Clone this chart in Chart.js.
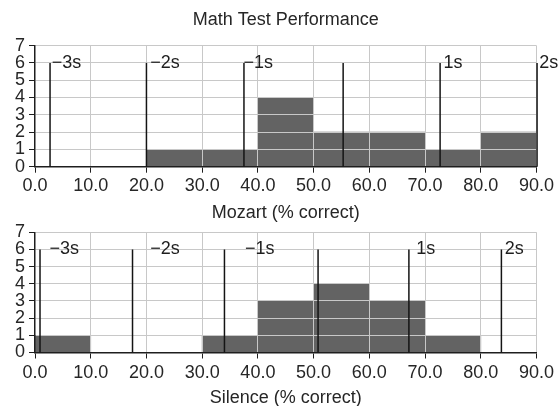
<!DOCTYPE html>
<html>
<head>
<meta charset="utf-8">
<script src="https://cdn.jsdelivr.net/npm/chart.js@4"></script>
<style>
html,body{margin:0;padding:0;background:#fff;width:560px;height:406px;overflow:hidden;position:relative}
canvas{position:absolute;left:0}
#mozartChart{top:0}
#silenceChart{top:190px}
</style>
</head>
<body>
<canvas id="mozartChart" width="560" height="230"></canvas>
<canvas id="silenceChart" width="560" height="230"></canvas>
<script>

/* ---------------- DATA ---------------- */

const binEdges = [0,10,20,30,40,50,60,70,80,90]
const yTicks = [0,1,2,3,4,5,6,7]

const mozartCounts = [0,0,1,1,4,2,2,1,2]
const silenceCounts = [1,0,0,1,3,4,3,1,0]

const sdNames = ["\u22123s","\u22122s","\u22121s","","1s","2s"]
const sdLineTop = 6

const mozartSdLines = [2.7,20.0,37.5,55.3,72.7,90.1]
const mozartSdLabelX = [3.0,20.7,37.4,null,73.3,90.5]

const silenceSdLines = [0.9,17.5,34.0,50.8,67.1,83.7]
const silenceSdLabelX = [2.6,20.7,37.7,null,68.4,84.3]

/* ---------------- STYLE ---------------- */

const FONT = "'Liberation Sans', Arial, Helvetica, sans-serif"
Chart.defaults.font.family = FONT
Chart.defaults.font.size = 18
Chart.defaults.color = "#262626"

const BAR = "#636363"
const GRID = "#c8c8c8"
const AXIS = "#1e1e1e"

/* ---------------- SD LINES PLUGIN ---------------- */

const sdPlugin = {
id:"sdMarks",
afterDraw(chart, args, opts){

const xs = chart.scales.x
const ys = chart.scales.y
const c = chart.ctx

c.save()
c.strokeStyle = "#141414"
c.lineWidth = 1.5

opts.lines.forEach(v=>{
const px = xs.getPixelForValue(v)
c.beginPath()
c.moveTo(px, ys.getPixelForValue(0))
c.lineTo(px, ys.getPixelForValue(sdLineTop))
c.stroke()
})

c.fillStyle = "#1e1e1e"
c.font = "18px " + FONT
c.textAlign = "left"
c.textBaseline = "middle"

opts.names.forEach((t,i)=>{
if(!t) return
c.fillText(t, xs.getPixelForValue(opts.labelX[i]), ys.getPixelForValue(sdLineTop))
})

c.restore()
}
}

/* ---------------- CHART BUILDER ---------------- */

function makeHistogram(id, counts, axisTitle, lines, labelX, extra){

const data = counts.map((n,i)=>({
x:(binEdges[i]+binEdges[i+1])/2,
y:n
}))

return new Chart(document.getElementById(id),{
type:"bar",
data:{
datasets:[{
data:data,
backgroundColor:BAR,
borderWidth:0,
barPercentage:1,
categoryPercentage:1
}]
},
plugins:[sdPlugin],
options:{
responsive:false,
animation:false,
layout:{padding:extra.padding},
plugins:{
legend:{display:false},
tooltip:{enabled:false},
title:extra.title,
sdMarks:{lines:lines,labelX:labelX,names:sdNames}
},
scales:{
x:{
type:"linear",
offset:false,
min:binEdges[0],
max:binEdges[binEdges.length-1],
afterBuildTicks:s=>{ s.ticks = binEdges.map(v=>({value:v})) },
afterFit:s=>{ s.height = extra.xHeight },
grid:{
z:1,
offset:false,
color:ctx=> ctx.tick && ctx.tick.value===0 ? "rgba(0,0,0,0)" : GRID,
tickColor:AXIS,
tickLength:6,
lineWidth:1
},
border:{color:AXIS,width:1.5,z:2},
ticks:{
padding:extra.tickPad,
maxRotation:0,
autoSkip:false,
callback:v=>v.toFixed(1)
},
title:{
display:true,
text:axisTitle,
padding:{top:0,bottom:extra.titlePad}
}
},
y:{
min:yTicks[0],
max:yTicks[yTicks.length-1],
afterBuildTicks:s=>{ s.ticks = yTicks.map(v=>({value:v})) },
afterFit:s=>{ s.width = 35 },
grid:{
z:1,
color:ctx=> ctx.tick && ctx.tick.value===0 ? "rgba(0,0,0,0)" : GRID,
tickColor:AXIS,
tickLength:6,
lineWidth:1
},
border:{color:AXIS,width:1.5,z:2},
ticks:{padding:4,autoSkip:false}
}
}
}
})

}

makeHistogram("mozartChart", mozartCounts, "Mozart (% correct)", mozartSdLines, mozartSdLabelX, {
padding:{left:0,right:23.5,top:0,bottom:0},
xHeight:63.3,
tickPad:3,
titlePad:6.2,
title:{
display:true,
fullSize:false,
text:"Math Test Performance",
color:"#262626",
font:{size:18,weight:"normal"},
padding:{top:9,bottom:15}
}
})

makeHistogram("silenceChart", silenceCounts, "Silence (% correct)", silenceSdLines, silenceSdLabelX, {
padding:{left:0,right:23.5,top:42.3,bottom:0},
xHeight:67.5,
tickPad:3.5,
titlePad:11.2,
title:{display:false}
})

</script>
</body>
</html>
